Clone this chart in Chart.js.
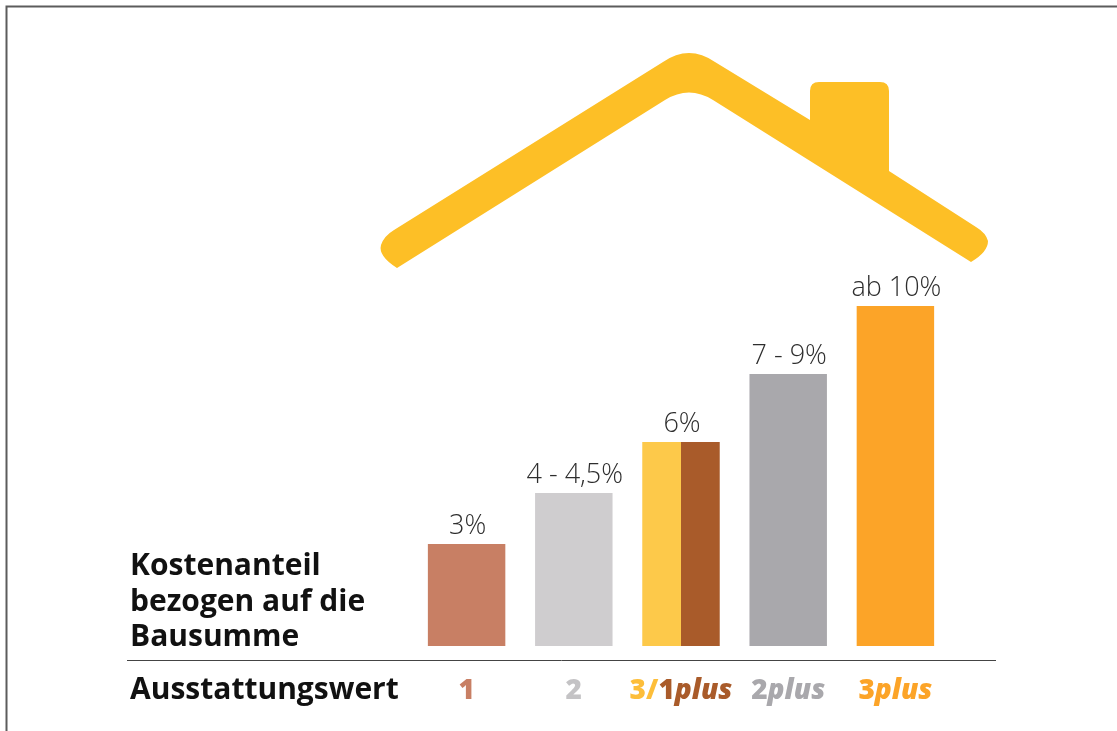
<!DOCTYPE html>
<html>
<head>
<meta charset="utf-8">
<title>Kostenanteil</title>
<script src="https://cdn.jsdelivr.net/npm/chart.js@4"></script>
<style>
  html, body { margin: 0; padding: 0; background: #fff; overflow: hidden; }
  #wrap { position: relative; width: 1117px; height: 731px; }
  /* the reference is a slightly soft scan */
  canvas { filter: blur(0.5px); }
</style>
</head>
<body>
<div id="wrap"><canvas id="chart" width="1117" height="731"></canvas></div>
<script>
// Data
const categories = ['1', '2', '3/1plus', '2plus', '3plus'];
const singleValues = [3, 4.5, null, 8, 10];
const leftHalfValues = [null, null, 6, null, null];
const rightHalfValues = [null, null, 6, null, null];
const valueLabels = ['3%', '4 - 4,5%', '6%', '7 - 9%', 'ab 10%'];
const singleColors = ['#c87f64', '#cfcdcf', '#ffffff', '#a9a8ac', '#fca428'];
const leftHalfColor = '#fdc94a';
const rightHalfColor = '#a95b2a';
const yTitleLines = ['Kostenanteil', 'bezogen auf die', 'Bausumme'];
const xTitle = 'Ausstattungswert';

// Coloured pieces of each category label
const tickParts = [
  [{ text: '1', color: '#c87f64' }],
  [{ text: '2', color: '#c4c3c5' }],
  [{ text: '3/', color: '#fdbe3a' }, { text: '1', color: '#a95b2a' }, { text: 'plus', color: '#a95b2a', italic: true }],
  [{ text: '2', color: '#a9a8ac' }, { text: 'plus', color: '#a9a8ac', italic: true }],
  [{ text: '3', color: '#fca428' }, { text: 'plus', color: '#fca428', italic: true }]
];

const FONT = '"Open Sans", "Noto Sans", sans-serif';

// Roof and chimney behind the bars
function drawRoof(ctx) {
  ctx.save();
  ctx.fillStyle = '#fdbf26';
  ctx.beginPath();
  ctx.moveTo(397, 268);
  ctx.quadraticCurveTo(378, 256, 381, 245);
  ctx.quadraticCurveTo(384, 236, 394, 230);
  ctx.lineTo(663, 62);
  ctx.quadraticCurveTo(689, 44, 715, 62);
  ctx.lineTo(810, 120);
  ctx.lineTo(810, 91);
  ctx.quadraticCurveTo(810, 82, 819, 82);
  ctx.lineTo(880, 82);
  ctx.quadraticCurveTo(889, 82, 889, 91);
  ctx.lineTo(889, 171);
  ctx.lineTo(976, 227);
  ctx.quadraticCurveTo(986, 233, 988, 241);
  ctx.quadraticCurveTo(988, 252, 971, 262);
  ctx.lineTo(713, 100);
  ctx.quadraticCurveTo(689, 85, 665, 100);
  ctx.closePath();
  ctx.fill();
  ctx.restore();
}

function drawFrame(ctx) {
  ctx.save();
  ctx.strokeStyle = '#5c5c5c';
  ctx.lineWidth = 2;
  ctx.beginPath();
  ctx.moveTo(6.5, 731);
  ctx.lineTo(6.5, 6.5);
  ctx.lineTo(1117, 6.5);
  ctx.stroke();
  ctx.restore();
}

const decorPlugin = {
  id: 'decor',
  beforeDatasetsDraw(chart) {
    drawFrame(chart.ctx);
    drawRoof(chart.ctx);
  },
  afterDatasetsDraw(chart) {
    const ctx = chart.ctx;
    const xScale = chart.scales.x;
    const yScale = chart.scales.y;
    ctx.save();

    // value labels above the bars
    ctx.font = '300 27px ' + FONT;
    ctx.fillStyle = '#2e2e2e';
    ctx.textAlign = 'center';
    ctx.textBaseline = 'alphabetic';
    valueLabels.forEach((label, i) => {
      const value = singleValues[i] !== null ? singleValues[i] : leftHalfValues[i];
      ctx.fillText(label, xScale.getPixelForValue(i) + 1, yScale.getPixelForValue(value) - 10);
    });

    // rule under the bars
    ctx.strokeStyle = '#444';
    ctx.lineWidth = 1;
    ctx.beginPath();
    ctx.moveTo(127, 660.5);
    ctx.lineTo(996, 660.5);
    ctx.stroke();

    // row titles
    ctx.textAlign = 'left';
    ctx.fillStyle = '#111';
    ctx.font = '700 30px ' + FONT;
    yTitleLines.forEach((line, i) => ctx.fillText(line, 130, 575 + i * 35.5));
    ctx.fillText(xTitle, 130, 699);

    // category labels, built from coloured pieces
    tickParts.forEach((parts, i) => {
      const fonts = parts.map(p => (p.italic ? 'italic ' : '') + '800 28px ' + FONT);
      const widths = parts.map((p, j) => { ctx.font = fonts[j]; return ctx.measureText(p.text).width; });
      let x = xScale.getPixelForValue(i) - widths.reduce((a, b) => a + b, 0) / 2;
      parts.forEach((p, j) => {
        ctx.font = fonts[j];
        ctx.fillStyle = p.color;
        ctx.fillText(p.text, x, 699);
        x += widths[j];
      });
    });
    ctx.restore();
  }
};

new Chart(document.getElementById('chart'), {
  type: 'bar',
  data: {
    labels: categories,
    datasets: [
      { label: 'Kostenanteil', data: singleValues, backgroundColor: singleColors },
      { label: 'Kostenanteil 3', data: leftHalfValues, backgroundColor: leftHalfColor },
      { label: 'Kostenanteil 1plus', data: rightHalfValues, backgroundColor: rightHalfColor }
    ]
  },
  options: {
    responsive: false,
    animation: false,
    layout: { padding: { left: 413, right: 168, top: 34, bottom: 85 } },
    datasets: { bar: { categoryPercentage: 0.7226, barPercentage: 1, borderWidth: 0, skipNull: true } },
    plugins: { legend: { display: false }, tooltip: { enabled: false } },
    scales: {
      x: { display: false },
      y: { display: false, min: 0, max: 18 }
    }
  },
  plugins: [decorPlugin]
});
</script>
</body>
</html>
